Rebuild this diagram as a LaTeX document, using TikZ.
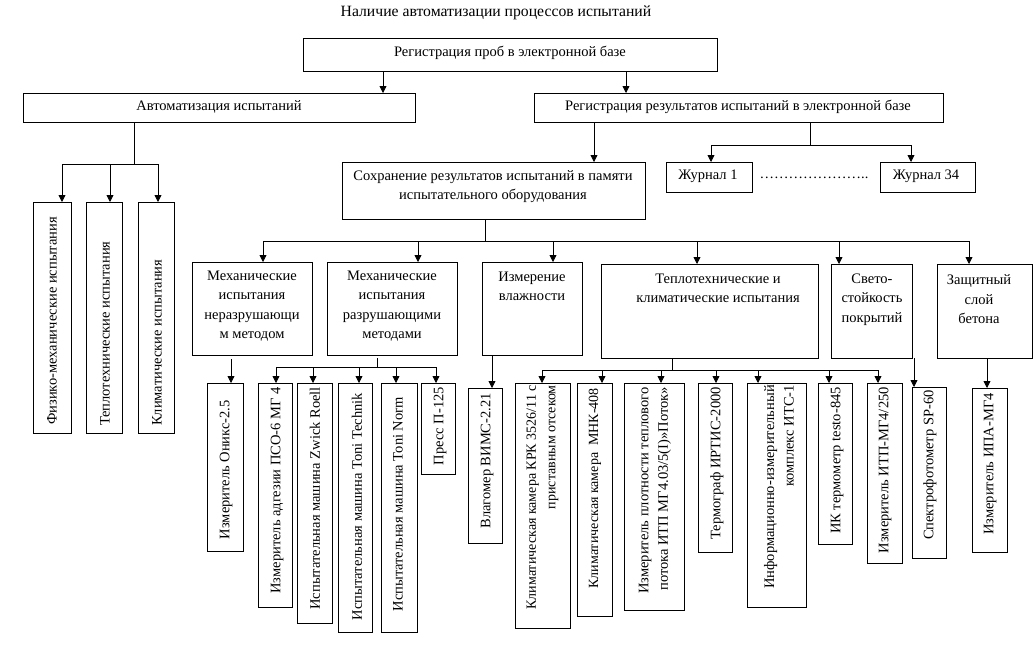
\documentclass[tikz,border=0pt]{standalone}
\usepackage{fontspec}
\setmainfont{Liberation Serif}
\usetikzlibrary{arrows.meta}
\newcommand\mybox[5]{\node[box, minimum width={(#4-#2)*1pt}, minimum height={(#5-#3)*1pt}] (#1) at ({(#2+#4)/2},{(#3+#5)/2}) {};}
\begin{document}
\begin{tikzpicture}[x=1pt,y=-1pt,
  box/.style={draw, line width=0.8pt, inner sep=0pt, outer sep=0pt},
  fnt/.style={font=\fontsize{14.5}{19.5}\selectfont},
  sfnt/.style={font=\fontsize{14}{19.5}\selectfont},
  txt/.style={fnt, align=center, inner sep=0pt},
  vtxt/.style={fnt, align=right, inner sep=0pt, rotate=90, anchor=east},
  vtxtb/.style={fnt, inner sep=0pt, rotate=90, anchor=west},
  ln/.style={line width=0.8pt},
  arr/.style={line width=0.8pt, -{Triangle[length=7pt,width=7pt]}}]
\useasboundingbox (0,0) rectangle (1034,648);

% title
\node[txt, font=\fontsize{15.7}{19.5}\selectfont] (title) at (496,13) {Наличие автоматизации процессов испытаний};

% top level boxes
\mybox{reg}{303}{38}{717}{71}
\node[txt] (reg-t) at (510,53) {Регистрация проб в электронной базе};
\mybox{auto}{23}{93}{415}{122}
\node[txt] (auto-t) at (219,107) {Автоматизация испытаний};
\mybox{regres}{534}{93}{943}{122}
\node[txt] (regres-t) at (738,107) {Регистрация результатов испытаний в электронной базе};
\mybox{save}{342}{162}{645}{219}
\node[txt] (save-t) at (493,186.5) {Сохранение результатов испытаний в памяти\\испытательного оборудования};
\mybox{j1}{666}{162}{752}{192}
\node[txt] (j1-t) at (708,176) {Журнал 1};
\mybox{j34}{880}{162}{975}{192}
\node[txt] (j34-t) at (926,176) {Журнал 34};
\node[txt] (dots) at (814,178) {…{}…{}…{}…{}…{}…{}…..};

% left vertical boxes
\mybox{f1}{33}{202}{71}{433}
\node[vtxtb] (f1-t) at (52,425) {Физико-механические испытания};
\mybox{f2}{86}{202}{122}{433}
\node[vtxtb] (f2-t) at (105,426) {Теплотехнические испытания};
\mybox{f3}{138}{202}{174}{433}
\node[vtxtb] (f3-t) at (157,426) {Климатические испытания};

% second row
\mybox{m1}{192}{262}{312}{355}
\node[txt] (m1-t) at (252,306) {Механические\\испытания\\неразрушающи\\м методом};
\mybox{m2}{327}{262}{457}{355}
\node[txt] (m2-t) at (392,306) {Механические\\испытания\\разрушающими\\методами};
\mybox{hum}{482}{262}{582}{355}
\node[txt] (hum-t) at (532,286.5) {Измерение\\влажности};
\mybox{tep}{601}{264}{818}{358}
\node[txt] (tep-t) at (718,288.5) {Теплотехнические и\\климатические испытания};
\mybox{sv}{831}{264}{912}{358}
\node[txt] (sv-t) at (872,299.5) {Свето-\\стойкость\\покрытий};
\mybox{zs}{937}{264}{1032}{358}
\node[txt] (zs-t) at (979,299.5) {Защитный\\слой\\бетона};

% bottom row
\mybox{onyx}{207}{383}{243}{551}
\node[vtxt] (onyx-t) at (226,400) {Измеритель Оникс-2.5};
\mybox{pso}{258}{383}{292}{607}
\node[vtxt] (pso-t) at (277,387) {Измеритель адгезии ПСО-6 МГ 4};
\mybox{zw}{297}{383}{332}{623}
\node[vtxt] (zw-t) at (315,387) {Испытательная машина Zwick Roell};
\mybox{tt}{338}{383}{372}{632}
\node[vtxt] (tt-t) at (357,393) {Испытательная машина Toni Technik};
\mybox{tn}{381}{383}{417}{632}
\node[vtxt] (tn-t) at (398,397) {Испытательная машина Toni Norm};
\mybox{pr}{421}{383}{455}{474}
\node[vtxt] (pr-t) at (440,387) {Пресс П-125};
\mybox{vim}{468}{388}{502}{543}
\node[vtxt] (vim-t) at (487,393) {Влагомер ВИМС-2.21};
\mybox{krk}{515}{383}{570}{628}
\node[vtxt, sfnt] (krk-t) at (542.5,385) {Климатическая камера КРК 3526/11 с\\приставным отсеком};
\mybox{mnk}{577}{383}{612}{616}
\node[vtxt, sfnt] (mnk-t) at (595,388) {Климатическая камера \ МНК-408};
\mybox{itp}{624}{383}{684}{610}
\node[vtxt] (itp-t) at (655,387) {Измеритель плотности теплового\\потока ИТП МГ4.03/5(I)»Поток»};
\mybox{irt}{698}{383}{732}{552}
\node[vtxt] (irt-t) at (717,387) {Термограф ИРТИС-2000};
\mybox{its}{747}{383}{806}{607}
\node[vtxt] (its-t) at (779,385) {Информационно-измерительный\\комплекс ИТС-1};
\mybox{tst}{818}{383}{852}{544}
\node[vtxt] (tst-t) at (837,387) {ИК термометр testo-845};
\mybox{itpm}{867}{383}{902}{563}
\node[vtxt] (itpm-t) at (885,387) {Измеритель ИТП-МГ4/250};
\mybox{sp}{912}{387}{946}{558}
\node[vtxt] (sp-t) at (930,390) {Спектрофотометр SP-60};
\mybox{ipa}{972}{388}{1007}{552}
\node[vtxt] (ipa-t) at (990,393) {Измеритель ИПА-МГ4};

% connectors
\coordinate (cA) at (383,0);
\coordinate (cB) at (626,0);
\draw[arr] (reg.south -| cA) -- (auto.north -| cA);
\draw[arr] (reg.south -| cB) -- (regres.north -| cB);

\coordinate (b0) at (134,164);
\coordinate (k1) at (62,164);
\coordinate (k2) at (110,164);
\coordinate (k3) at (158,164);
\draw[ln] (auto.south -| b0) -- (b0);
\draw[ln] (k1) -- (k3);
\draw[arr] (k1) -- (f1.north -| k1);
\draw[arr] (k2) -- (f2.north -| k2);
\draw[arr] (k3) -- (f3.north -| k3);

\coordinate (cD) at (594,0);
\draw[arr] (regres.south -| cD) -- (save.north -| cD);
\coordinate (j0) at (810,145);
\coordinate (jl) at (711,145);
\coordinate (jr) at (911,145);
\draw[ln] (regres.south -| j0) -- (j0);
\draw[ln] (jl) -- (jr);
\draw[arr] (jl) -- (j1.north -| jl);
\draw[arr] (jr) -- (j34.north -| jr);

\coordinate (s0) at (485,241);
\coordinate (s1) at (263,241);
\coordinate (s2) at (418,241);
\coordinate (s3) at (553,241);
\coordinate (s4) at (697,241);
\coordinate (s5) at (839,241);
\coordinate (s6) at (969,241);
\draw[ln] (save.south -| s0) -- (s0);
\draw[ln] (s1) -- (s6);
\draw[arr] (s1) -- (m1.north -| s1);
\draw[arr] (s2) -- (m2.north -| s2);
\draw[arr] (s3) -- (hum.north -| s3);
\draw[arr] (s4) -- (tep.north -| s4);
\draw[arr] (s5) -- (sv.north -| s5);
\draw[arr] (s6) -- (zs.north -| s6);

\coordinate (o1) at (231,0);
\draw[arr, shorten <=4pt] (m1.south -| o1) -- (onyx.north -| o1);

\coordinate (d0) at (377,367);
\coordinate (d1) at (276,367);
\coordinate (d2) at (313,367);
\coordinate (d3) at (359,367);
\coordinate (d4) at (396,367);
\coordinate (d5) at (436,367);
\draw[ln, shorten <=3pt] (m2.south -| d0) -- (d0);
\draw[ln] (d1) -- (d5);
\draw[arr] (d1) -- (pso.north -| d1);
\draw[arr] (d2) -- (zw.north -| d2);
\draw[arr] (d3) -- (tt.north -| d3);
\draw[arr] (d4) -- (tn.north -| d4);
\draw[arr] (d5) -- (pr.north -| d5);

\coordinate (h1) at (492,0);
\draw[arr] (hum.south -| h1) -- (vim.north -| h1);

\coordinate (t0) at (672,370);
\coordinate (t1) at (542,370);
\coordinate (t2) at (602,370);
\coordinate (t3) at (661,370);
\coordinate (t4) at (716,370);
\coordinate (t5) at (758,370);
\coordinate (t6) at (829,370);
\coordinate (t7) at (878,370);
\draw[ln] (tep.south -| t0) -- (t0);
\draw[ln] (t1) -- (t7);
\draw[arr] (t1) -- (krk.north -| t1);
\draw[arr] (t2) -- (mnk.north -| t2);
\draw[arr] (t3) -- (itp.north -| t3);
\draw[arr] (t4) -- (irt.north -| t4);
\draw[arr] (t5) -- (its.north -| t5);
\draw[arr] (t6) -- (tst.north -| t6);
\draw[arr] (t7) -- (itpm.north -| t7);

\coordinate (v1) at (914,0);
\draw[arr] (sv.south -| v1) -- (sp.north -| v1);
\coordinate (z1) at (987,0);
\draw[arr] (zs.south -| z1) -- (ipa.north -| z1);
\end{tikzpicture}
\end{document}
